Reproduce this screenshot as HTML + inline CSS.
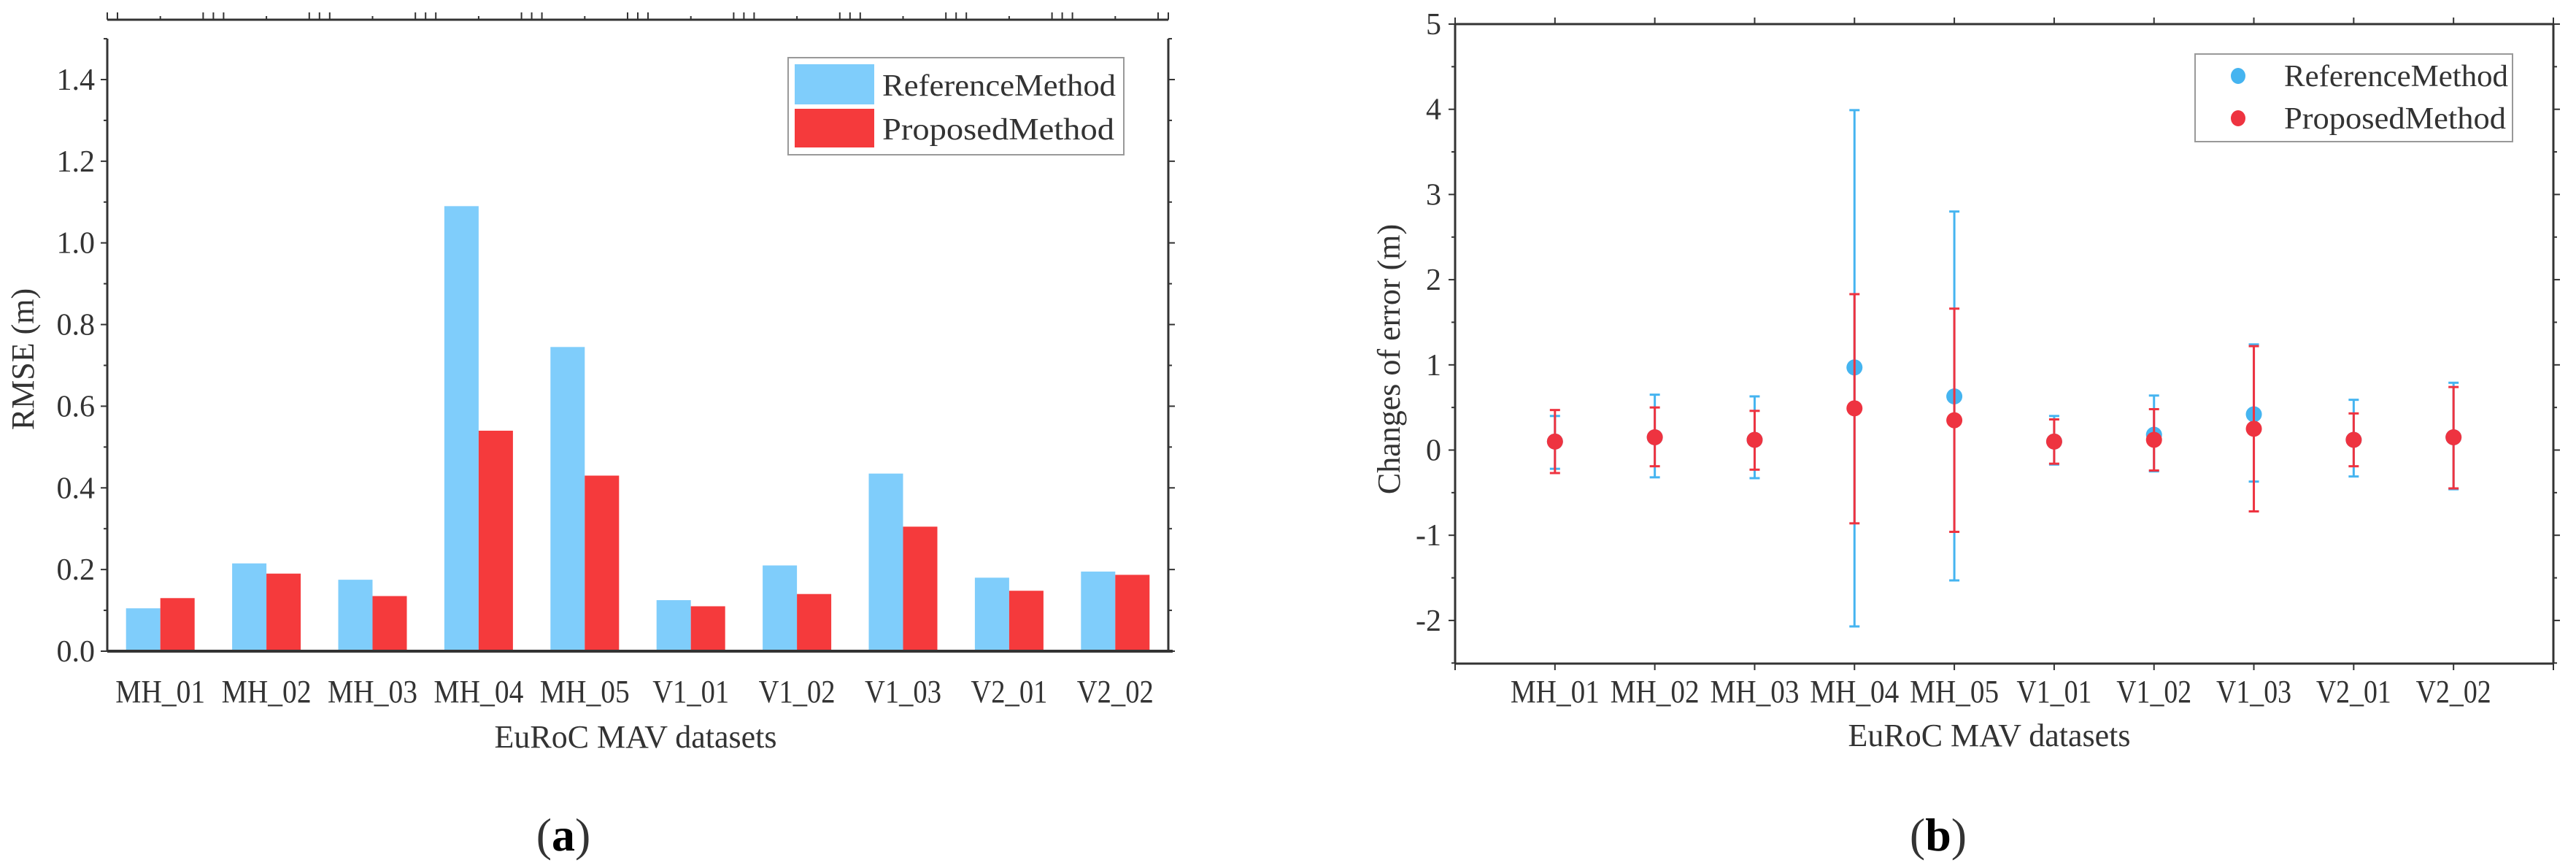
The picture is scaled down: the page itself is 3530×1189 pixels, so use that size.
<!DOCTYPE html>
<html><head><meta charset="utf-8"><style>
html,body{margin:0;padding:0;background:#fff;}
svg{display:block;}
text{font-family:"Liberation Serif",serif;fill:#333;}
</style></head><body>
<svg id="fig" width="3530" height="1189" viewBox="0 0 3530 1189" xmlns="http://www.w3.org/2000/svg">
<g id="ga"></g>
<g id="gb"></g>
</svg>
<script>
const categories = ["MH_01","MH_02","MH_03","MH_04","MH_05","V1_01","V1_02","V1_03","V2_01","V2_02"];
const rmseRef = [0.105,0.215,0.175,1.09,0.745,0.125,0.21,0.435,0.18,0.195];
const rmseProp = [0.13,0.19,0.135,0.54,0.43,0.11,0.14,0.305,0.148,0.187];
const aTicks = [0,0.2,0.4,0.6,0.8,1.0,1.2,1.4];
const aTickLabels = ["0.0","0.2","0.4","0.6","0.8","1.0","1.2","1.4"];
const refMean = [0.1,0.15,0.12,0.97,0.63,0.1,0.18,0.42,0.12,0.15];
const refLow = [-0.22,-0.32,-0.33,-2.07,-1.53,-0.17,-0.25,-0.37,-0.31,-0.46];
const refHigh = [0.4,0.65,0.63,3.99,2.8,0.4,0.64,1.24,0.59,0.79];
const propMean = [0.1,0.15,0.12,0.49,0.35,0.1,0.12,0.25,0.12,0.15];
const propLow = [-0.27,-0.19,-0.23,-0.86,-0.96,-0.16,-0.24,-0.72,-0.19,-0.45];
const propHigh = [0.47,0.5,0.46,1.83,1.66,0.36,0.48,1.22,0.43,0.74];
const bTicks = [-2,-1,0,1,2,3,4,5];
const bTickLabels = ["-2","-1","0","1","2","3","4","5"];

const NS = "http://www.w3.org/2000/svg";
function mk(parent, tag, attrs, txt){
  const e = document.createElementNS(NS, tag);
  for (const k in attrs) e.setAttribute(k, attrs[k]);
  if (txt !== undefined) e.textContent = txt;
  parent.appendChild(e);
  return e;
}
const BLUE = "#7fcdfb", RED = "#f53a3c", AX = "#333";

/* ---------- Chart A ---------- */
const ga = document.getElementById("ga");
const aL = 147, aR = 1601, aY0 = 892, aPerUnit = 559.3, aTop = 53;
const ay = v => aY0 - v * aPerUnit;
const band = (aR - aL) / categories.length;
const ax = i => aL + band * (i + 0.5);
const bw = 47;

categories.forEach((c, i) => {
  const r1 = mk(ga, "rect", {x: ax(i) - bw, y: ay(rmseRef[i]), width: bw, height: aY0 - ay(rmseRef[i]), fill: BLUE});
  
  
  const r2 = mk(ga, "rect", {x: ax(i), y: ay(rmseProp[i]), width: bw, height: aY0 - ay(rmseProp[i]), fill: RED});
  
  
  const t = mk(ga, "text", {x: ax(i), y: 962, "font-size": 44, "text-anchor": "middle", textLength: c[0]==="M" ? 123 : 105, lengthAdjust: "spacingAndGlyphs"}, c);
  
  
});
mk(ga, "line", {x1: aL, y1: aTop, x2: aL, y2: aY0, stroke: AX, "stroke-width": 3});
mk(ga, "line", {x1: aR, y1: aTop, x2: aR, y2: aY0, stroke: AX, "stroke-width": 3});
mk(ga, "line", {x1: aL, y1: aY0, x2: aR + 6, y2: aY0, stroke: AX, "stroke-width": 4});
mk(ga, "line", {x1: aL, y1: 27, x2: aR, y2: 27, stroke: AX, "stroke-width": 3});
for (let v = 0; v <= 1.5001; v += 0.1) {
  const major = Math.round(v * 10) % 2 === 0;
  mk(ga, "line", {x1: aL, y1: ay(v), x2: aL - (major ? 9 : 5), y2: ay(v), stroke: AX, "stroke-width": 2});
  mk(ga, "line", {x1: aR, y1: ay(v), x2: aR + (major ? 9 : 5), y2: ay(v), stroke: AX, "stroke-width": 2});
}
aTicks.forEach((v, k) => {
  const t = mk(ga, "text", {x: 130, y: ay(v) + 14, "font-size": 42, "text-anchor": "end"}, aTickLabels[k]);
  
  
});
for (let i = 0; i <= categories.length; i++) {
  const e = aL + band * i;
  [-14, 0, 14].forEach(d => {
    const xx = e + d;
    if (xx >= aL && xx <= aR) mk(ga, "line", {x1: xx, y1: 27, x2: xx, y2: 17, stroke: AX, "stroke-width": 2});
  });
  if (i < categories.length) mk(ga, "line", {x1: ax(i), y1: 27, x2: ax(i), y2: 22, stroke: AX, "stroke-width": 2});
}
let t = mk(ga, "text", {x: 0, y: 0, "font-size": 44, "text-anchor": "middle", transform: "translate(46,492) rotate(-90)"}, "RMSE (m)");
 
t = mk(ga, "text", {x: 871, y: 1024, "font-size": 44, "text-anchor": "middle"}, "EuRoC MAV datasets");
 
t = mk(ga, "text", {x: 772, y: 1165, "font-size": 64, "text-anchor": "middle", fill: "#000"});
 
t.innerHTML = '(<tspan font-weight="bold" fill="#000">a</tspan>)';
let lg = mk(ga, "g", {});
 
mk(lg, "rect", {x: 1080, y: 79, width: 460, height: 133, fill: "#fff", stroke: "#999", "stroke-width": 2});
mk(lg, "rect", {x: 1089, y: 88, width: 109, height: 55, fill: BLUE});
mk(lg, "rect", {x: 1089, y: 149, width: 109, height: 53, fill: RED});
mk(lg, "text", {x: 1209, y: 131, "font-size": 42, textLength: 320, lengthAdjust: "spacingAndGlyphs"}, "ReferenceMethod");
mk(lg, "text", {x: 1209, y: 191, "font-size": 42, textLength: 318, lengthAdjust: "spacingAndGlyphs"}, "ProposedMethod");

/* ---------- Chart B ---------- */
const gb = document.getElementById("gb");
const bL = 1994, bR = 3499, bTop = 33, bBot = 909, bY0 = 616.5, bPer = 116.7;
const by = v => bY0 - v * bPer;
const bStep = (bR - bL) / 11;
const bx = i => bL + (i + 1) * bStep;

mk(gb, "line", {x1: bL, y1: bTop, x2: bR, y2: bTop, stroke: AX, "stroke-width": 3});
mk(gb, "line", {x1: bL, y1: bBot, x2: bR, y2: bBot, stroke: AX, "stroke-width": 3});
mk(gb, "line", {x1: bL, y1: bTop, x2: bL, y2: bBot, stroke: AX, "stroke-width": 3});
mk(gb, "line", {x1: bR, y1: bTop, x2: bR, y2: bBot, stroke: AX, "stroke-width": 3});
for (let v = -2.5; v <= 5.001; v += 0.5) {
  const major = Math.abs(v - Math.round(v)) < 0.01;
  mk(gb, "line", {x1: bL, y1: by(v), x2: bL - (major ? 9 : 5), y2: by(v), stroke: AX, "stroke-width": 2});
  mk(gb, "line", {x1: bR, y1: by(v), x2: bR + (major ? 9 : 5), y2: by(v), stroke: AX, "stroke-width": 2});
}
for (let i = -1; i <= 10; i++) {
  const xx = bx(i);
  mk(gb, "line", {x1: xx, y1: bTop, x2: xx, y2: bTop - 9, stroke: AX, "stroke-width": 2});
  mk(gb, "line", {x1: xx, y1: bBot, x2: xx, y2: bBot + 9, stroke: AX, "stroke-width": 2});
}
bTicks.forEach((v, k) => {
  const t = mk(gb, "text", {x: 1975, y: by(v) + 14, "font-size": 42, "text-anchor": "end"}, bTickLabels[k]);
  
  
});
function errbar(i, lo, hi, col, name){
  const g = mk(gb, "g", {});
  
  
  mk(g, "line", {x1: bx(i), y1: by(lo), x2: bx(i), y2: by(hi), stroke: col, "stroke-width": 3});
  mk(g, "line", {x1: bx(i) - 7, y1: by(lo), x2: bx(i) + 7, y2: by(lo), stroke: col, "stroke-width": 3});
  mk(g, "line", {x1: bx(i) - 7, y1: by(hi), x2: bx(i) + 7, y2: by(hi), stroke: col, "stroke-width": 3});
}
const BLUE2 = "#45b4f0", RED2 = "#ee3340";
categories.forEach((c, i) => {
  errbar(i, refLow[i], refHigh[i], BLUE2, 'errorbar-reference-' + c.toLowerCase());
  const p = mk(gb, "ellipse", {cx: bx(i), cy: by(refMean[i]), rx: 11, ry: 11, fill: BLUE2});
  
  
});
categories.forEach((c, i) => {
  errbar(i, propLow[i], propHigh[i], RED2, 'errorbar-proposed-' + c.toLowerCase());
  const p = mk(gb, "ellipse", {cx: bx(i), cy: by(propMean[i]), rx: 11, ry: 11, fill: RED2});
  
  
  const t = mk(gb, "text", {x: bx(i), y: 962, "font-size": 44, "text-anchor": "middle", textLength: c[0]==="M" ? 122 : 103, lengthAdjust: "spacingAndGlyphs"}, c);
  
  
});
t = mk(gb, "text", {x: 0, y: 0, "font-size": 44, "text-anchor": "middle", transform: "translate(1918,492) rotate(-90)"}, "Changes of error  (m)");
 
t = mk(gb, "text", {x: 2726, y: 1022, "font-size": 44, "text-anchor": "middle"}, "EuRoC MAV datasets");
 
t = mk(gb, "text", {x: 2656, y: 1165, "font-size": 64, "text-anchor": "middle", fill: "#000"});
 
t.innerHTML = '(<tspan font-weight="bold" fill="#000">b</tspan>)';
lg = mk(gb, "g", {});
 
mk(lg, "rect", {x: 3008, y: 74, width: 435, height: 120, fill: "#fff", stroke: "#999", "stroke-width": 2});
mk(lg, "ellipse", {cx: 3067, cy: 104, rx: 10, ry: 11, fill: BLUE2});
mk(lg, "ellipse", {cx: 3067, cy: 162, rx: 10, ry: 11, fill: RED2});
mk(lg, "text", {x: 3130, y: 118, "font-size": 42, textLength: 307, lengthAdjust: "spacingAndGlyphs"}, "ReferenceMethod");
mk(lg, "text", {x: 3130, y: 176, "font-size": 42, textLength: 304, lengthAdjust: "spacingAndGlyphs"}, "ProposedMethod");
</script>
</body></html>
